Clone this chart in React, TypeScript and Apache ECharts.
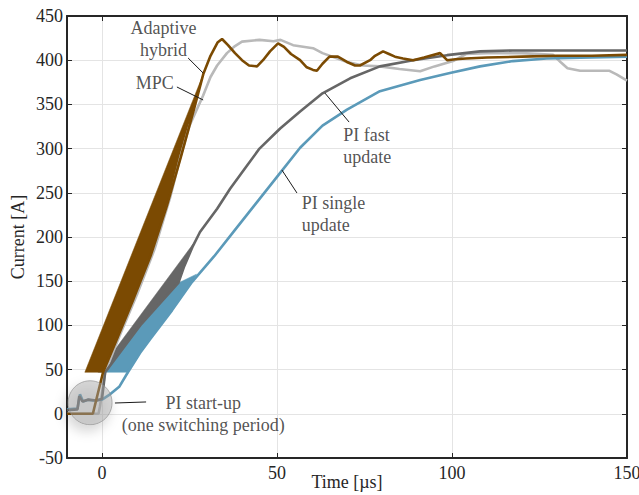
import React, { useEffect, useRef } from "react";
import * as echarts from "echarts";

// ---- data (time in µs, current in A) ----
const xTicks = [0, 50, 100, 150];

const adaptiveHybrid: [number, number][] = [
  [-10, 0], [-2.6, 0], [-2, 10], [0.3, 47], [4, 82], [9, 130], [14, 180],
  [18.5, 235], [22.5, 290], [26.3, 345], [29, 385], [31, 405], [33, 420],
  [34.3, 424], [36, 417], [38, 408], [40, 400], [42, 394], [44.3, 393],
  [46, 400], [48, 410], [50.3, 419], [52, 415], [54, 407], [56.6, 400],
  [58.5, 392], [60.3, 389], [61.4, 388], [63, 396], [65, 404], [67.4, 404],
  [70, 398], [72.3, 394], [73.7, 394], [76.6, 400], [78, 405], [80.3, 410],
  [82, 407], [83.7, 404], [86, 402], [88.9, 400], [92, 403], [96.6, 408],
  [98.6, 400], [101, 401], [104, 402], [110, 403], [120, 404], [130, 405],
  [140, 405], [150, 406],
];

const mpc: [number, number][] = [
  [-10, 0], [-1, 0], [-0.6, 8], [0.9, 47], [5, 88], [10, 135], [15, 186],
  [19.5, 245], [22.5, 292], [25, 326], [28.9, 360], [31, 381], [32.9, 394],
  [35.7, 408], [38, 416], [40, 421], [45, 423], [49, 421.5], [51, 423],
  [54.6, 417], [60.3, 413.6], [63, 408], [70, 398], [74.6, 394], [79.4, 393],
  [85, 390], [90.9, 387.5], [95, 393], [100.3, 399], [104, 407], [110, 408],
  [120, 408], [128.9, 406], [131, 398], [133, 391], [136.6, 388], [142, 388],
  [145, 388], [147, 384], [150, 377],
];

const piFast: [number, number][] = [
  [-10, 4], [-7, 5], [-6.5, 20], [-5.6, 14], [-4, 16], [-1.5, 15], [0, 17],
  [0.9, 47], [10.9, 100], [21.8, 148], [23.5, 167], [26, 190], [28, 205.7],
  [32.9, 232], [36.6, 254.5], [41.4, 280.7], [45, 300], [50.9, 322.7],
  [56.6, 342], [63, 362.5], [70.9, 379.5], [79.4, 393], [88.9, 400],
  [98.6, 405.7], [108, 410], [117.4, 411], [130, 411], [150, 411],
];

const piSingle: [number, number][] = [
  [-10, 5], [-7, 6], [-6.3, 22], [-5.4, 14], [-4, 16], [-2.6, 15], [0, 16],
  [2.3, 22], [5, 31], [7.4, 47], [10.9, 69], [13.7, 84], [20, 117],
  [25.7, 149], [32, 178], [38, 208], [44, 238], [50, 268], [56.6, 301],
  [63, 326], [70, 344], [79.4, 365], [90.9, 377.5], [99.4, 385.6], [108, 393],
  [117.4, 399], [127, 402], [140, 403], [150, 404],
];

const brownBand: [number, number][] = [
  [-4.9, 47], [0.3, 47], [4, 82], [9, 130], [14, 180], [18.5, 235],
  [22.5, 290], [26.3, 345], [29, 385],
];
const blueBand: [number, number][] = [
  [0.9, 47], [7.4, 47], [10.9, 69], [13.7, 84], [20, 117], [25.6, 148],
  [27, 158], [21.8, 148], [10.9, 100],
];
const grayBand: [number, number][] = [
  [-1.1, 47], [0.9, 47], [10.9, 100], [21.8, 148], [23.5, 167], [26, 192],
];

const startupMarker: [number, number][] = [[-3.4, 12.5]];

const leaders: [number, number][][] = [
  [[24.6, 402.5], [28.9, 385.5]],
  [[21.4, 369.7], [28.9, 355]],
  [[63.7, 362.8], [70.6, 330]],
  [[51.4, 275.8], [55.7, 249.8]],
  [[3.7, 12.2], [12.6, 13.4]],
];

const labelTexts = [
  "Adaptive\nhybrid",
  "MPC",
  "PI fast\nupdate",
  "PI single\nupdate",
  "PI start-up\n(one switching period)",
];
const labelAnchors: [number, number][] = [
  [17.6, 424], [15.1, 374.2], [68.9, 302.9], [57.1, 226], [28.9, 0.3],
];
const labelAlign = ["center", "center", "left", "left", "center"];

const FONT = "Liberation Serif";
const INK = "#262626";
const C_BROWN = "#7b4a02";
const C_LIGHT = "#b9b9b9";
const C_DARK = "#666666";
const C_BLUE = "#5b9ab9";

function bandSeries(points: [number, number][], color: string, z: number) {
  return {
    type: "custom",
    silent: true,
    z,
    data: points,
    encode: { x: 0, y: 1 },
    renderItem: (params: any, api: any) => {
      if (params.dataIndex !== 0) return null;
      return {
        type: "polygon",
        shape: { points: points.map((p) => api.coord(p)) },
        style: { fill: color, stroke: color, lineWidth: 0.5 },
      };
    },
  };
}

function lineSeries(name: string, data: [number, number][], color: string, z: number) {
  return {
    name,
    type: "line",
    data,
    showSymbol: false,
    symbol: "none",
    z,
    lineStyle: { color, width: 2.6 },
  };
}

export default function App() {
  const ref = useRef<HTMLDivElement>(null);
  useEffect(() => {
    if (!ref.current) return;
    const chart = echarts.init(ref.current, undefined, { renderer: "svg" });
    const axisText = { fontFamily: FONT, fontSize: 18, color: INK };
    chart.setOption({
      animation: false,
      grid: { left: 67, right: 12, top: 16, bottom: 37, containLabel: false, outerBoundsMode: "none" },
      xAxis: [
        {
          type: "value",
          min: -10,
          max: 150,
          position: "bottom",
          name: "Time [µs]",
          nameLocation: "middle",
          nameGap: 15,
          nameMoveOverlap: false,
          nameTextStyle: { ...axisText },
          axisLine: { show: true, onZero: false, lineStyle: { color: INK, width: 2 } },
          axisTick: { show: true, inside: true, length: 5, customValues: xTicks, lineStyle: { color: INK } },
          axisLabel: { ...axisText, margin: 6, customValues: xTicks },
          splitLine: { show: true, lineStyle: { color: "#e4e4e4", width: 1 } },
        },
        {
          type: "value",
          min: -10,
          max: 150,
          position: "top",
          axisLine: { show: true, onZero: false, lineStyle: { color: INK, width: 2 } },
          axisTick: { show: true, inside: true, length: 5, customValues: xTicks, lineStyle: { color: INK } },
          axisLabel: { show: false },
          splitLine: { show: false },
        },
      ],
      yAxis: [
        {
          type: "value",
          min: -50,
          max: 450,
          interval: 50,
          position: "left",
          name: "Current [A]",
          nameLocation: "middle",
          nameGap: 40,
          nameMoveOverlap: false,
          nameTextStyle: { ...axisText },
          axisLine: { show: true, onZero: false, lineStyle: { color: INK, width: 2 } },
          axisTick: { show: true, inside: true, length: 5, lineStyle: { color: INK } },
          axisLabel: { ...axisText, margin: 4 },
          splitLine: { show: true, lineStyle: { color: "#e4e4e4", width: 1 } },
        },
        {
          type: "value",
          min: -50,
          max: 450,
          interval: 50,
          position: "right",
          axisLine: { show: true, onZero: false, lineStyle: { color: INK, width: 2 } },
          axisTick: { show: true, inside: true, length: 5, lineStyle: { color: INK } },
          axisLabel: { show: false },
          splitLine: { show: false },
        },
      ],
      series: [
        bandSeries(blueBand, C_BLUE, 2),
        bandSeries(grayBand, C_DARK, 3),
        bandSeries(brownBand, C_BROWN, 3),
        lineSeries("MPC", mpc, C_LIGHT, 4),
        lineSeries("PI single update", piSingle, C_BLUE, 5),
        lineSeries("PI fast update", piFast, C_DARK, 5),
        lineSeries("Adaptive hybrid", adaptiveHybrid, C_BROWN, 6),
        {
          type: "scatter",
          data: startupMarker,
          symbolSize: 44,
          silent: true,
          z: 7,
          itemStyle: {
            color: "rgba(165,165,165,0.55)",
            borderColor: "rgba(140,140,140,0.8)",
            borderWidth: 1,
            shadowBlur: 12,
            shadowColor: "rgba(0,0,0,0.35)",
            shadowOffsetX: -3,
            shadowOffsetY: 6,
          },
        },
        ...leaders.map((seg) => ({
          type: "line",
          data: seg,
          symbol: "none",
          silent: true,
          z: 8,
          lineStyle: { color: "#1a1a1a", width: 1 },
        })),
        {
          type: "scatter",
          symbolSize: 0,
          silent: true,
          z: 9,
          data: labelTexts.map((t, i) => ({
            value: labelAnchors[i],
            label: {
              show: true,
              formatter: t,
              position: labelAlign[i] === "left" ? "right" : "inside",
              distance: 0,
              align: labelAlign[i],
              verticalAlign: "middle",
              fontFamily: FONT,
              fontSize: 18,
              lineHeight: 22,
              color: INK,
            },
          })),
        },
      ],
    });
    return () => chart.dispose();
  }, []);
  return (
    <div
      ref={ref}
      style={{ position: "absolute", left: 0, top: 0, width: 639, height: 495, background: "#fff" }}
    />
  );
}
